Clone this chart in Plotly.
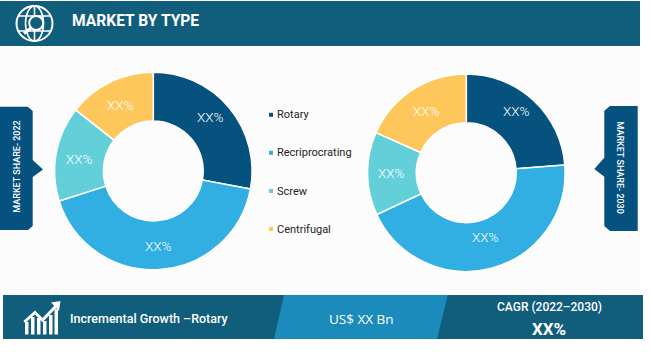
import plotly.graph_objects as go

W, H = 650, 352
categories = ["Rotary", "Recriprocrating", "Screw", "Centrifugal"]
share_2022 = [27.9, 42.2, 15.5, 14.4]
share_2030 = [23.75, 44.3, 13.6, 18.35]
slice_labels = ["XX%", "XX%", "XX%", "XX%"]
colors = ["#05527F", "#31AEE2", "#63CFD9", "#FEC75B"]

DARK = "#115D7C"
MID = "#1A8BBB"
BOX = "#05517F"
BG = "#FCFCFC"


def fx(x):
    return x / W


def fy(y):
    return 1 - y / H


def domain(cx, cy, r):
    return dict(x=[fx(cx - r), fx(cx + r)], y=[fy(cy + r), fy(cy - r)])


def poly(pts, fill, line=None, width=0):
    path = "M" + " L".join(f"{x},{H - y}" for x, y in pts) + " Z"
    return dict(type="path", xref="x", yref="y", path=path, fillcolor=fill,
                line=dict(color=line or fill, width=width), layer="below")


def stroke(pts, color="white", width=2):
    path = "M" + " L".join(f"{x},{H - y}" for x, y in pts)
    return dict(type="path", xref="x", yref="y", path=path,
                line=dict(color=color, width=width), layer="above")


def ell(cx, cy, rx, ry, fill="rgba(0,0,0,0)", color="white", width=2):
    return dict(type="circle", xref="x", yref="y", x0=cx - rx, x1=cx + rx,
                y0=H - cy - ry, y1=H - cy + ry, fillcolor=fill,
                line=dict(color=color, width=width), layer="above")


def text(x, y, s, size, color="white", font="Roboto", anchor="center", angle=0, bold=False, weight=None):
    if anchor == "left":
        x -= 2
    f = dict(family=font, size=size, color=color)
    if weight:
        f["weight"] = weight
    if bold:
        s = f"<b>{s}</b>"
    return dict(x=x, y=H - y, xref="x", yref="y", text=s, showarrow=False, textangle=angle,
                xanchor=anchor, yanchor="middle", align="center", font=f)


fig = go.Figure()
for vals, c in ((share_2022, (153.3, 171.0)), (share_2030, (466.3, 172.7))):
    fig.add_trace(go.Pie(labels=categories, values=vals, hole=0.505, sort=False,
                         direction="clockwise", rotation=0, textinfo="none",
                         marker=dict(colors=colors, line=dict(color="white", width=1.5)),
                         domain=domain(c[0], c[1], 98.8), showlegend=False, hoverinfo="label+percent"))

shapes = [
    poly([(0, 47), (640, 47), (640, 295), (0, 295)], BG),
    poly([(0, 1), (640, 1), (640, 46), (0, 46)], DARK),
    poly([(3, 295), (643, 295), (643, 339), (3, 339)], DARK),
    poly([(284, 295), (447.7, 295), (437, 339), (274, 339)], MID),
    poly([(0, 106.7), (27.7, 106.7), (32.7, 111), (32.7, 160), (43, 169.5), (32.7, 177),
          (32.7, 226), (28, 230), (0, 230)], BOX),
    poly([(610, 106), (637.7, 106), (637.7, 231), (610, 231), (604.3, 226), (604.3, 176.7),
          (594.3, 169), (604.3, 157.7), (604.3, 110.7)], BOX),
    # globe icon
    ell(34.5, 23.5, 18, 17.5),
    ell(34.5, 23.5, 9, 17.5, width=1.6),
    stroke([(34.5, 6), (34.5, 41)], width=1.6),
    stroke([(18, 16), (51, 16)], width=1.6),
    stroke([(18, 31), (51, 31)], width=1.6),
    ell(36.2, 23, 7, 7, fill=DARK, width=2),
    stroke([(31, 28), (24, 33.5)], width=3),
    # growth icon
    stroke([(24.3, 322), (35, 312.5), (42.5, 320), (58, 304)], width=3),
    poly([(51, 302.5), (60.5, 301), (59, 311)], "white"),
]
for x0, x1, top in [(25, 28.5, 322), (31, 34.5, 317), (37, 40.5, 318), (43, 46.5, 321),
                    (49, 52.5, 315), (54.5, 58, 309)]:
    shapes.append(poly([(x0, top), (x1, top), (x1, 334.5), (x0, 334.5)], "white"))
for i, cat in enumerate(categories):
    y = [114.8, 152.8, 191, 229][i]
    shapes.append(poly([(269, y - 2), (273, y - 2), (273, y + 2), (269, y + 2)], colors[i]))

ann = [
    text(72, 20.5, "MARKET BY TYPE", 15.6, anchor="left", bold=True),
    text(70, 318, "Incremental Growth –Rotary", 12.5, anchor="left", weight=500),
    text(361, 318.5, "US$ XX Bn", 13.5, font="Open Sans"),
    text(549.5, 307, "CAGR (2022–2030)", 12, weight=500),
    text(549, 328.5, "XX%", 17, bold=True),
    text(16.7, 167, "MARKET SHARE- 2022", 9, angle=-90, weight=500),
    text(620, 167.5, "MARKET SHARE- 2030", 9, angle=90, weight=500),
]
for i, cat in enumerate(categories):
    y = [114.8, 152.8, 191, 229][i]
    ann.append(text(277, y, cat, 11, color="#222222", anchor="left"))
label_pos = [(210, 117), (158, 246), (79, 159), (120, 105),
             (516, 111), (485, 237), (391, 173), (426, 111)]
for (x, y), s in zip(label_pos, slice_labels + slice_labels):
    ann.append(text(x, y, s, 13.5, weight=300))

fig.update_layout(width=W, height=H, margin=dict(l=0, r=0, t=0, b=0), autosize=False,
                  paper_bgcolor="white", plot_bgcolor="rgba(0,0,0,0)", showlegend=False,
                  xaxis=dict(range=[0, W], visible=False, fixedrange=True),
                  yaxis=dict(range=[0, H], visible=False, fixedrange=True),
                  shapes=shapes, annotations=ann)
fig.add_trace(go.Scatter(x=[0], y=[0], mode="markers", marker=dict(opacity=0), showlegend=False, hoverinfo="skip"))
fig.write_html("out.html", config=dict(displayModeBar=False),
               post_script="document.body.style.margin='0';")
